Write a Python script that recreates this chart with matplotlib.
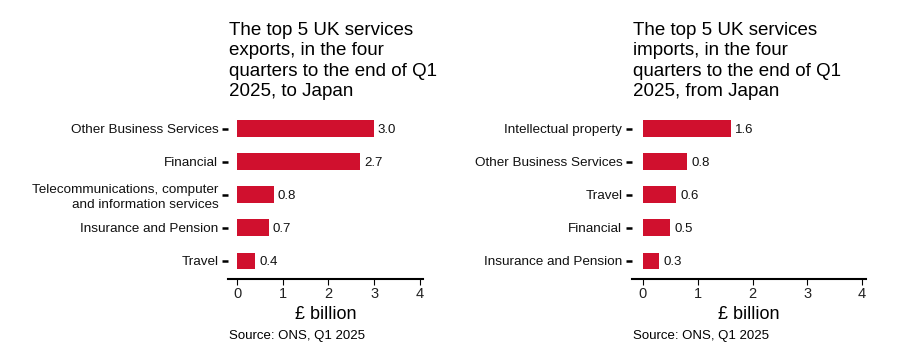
import matplotlib
matplotlib.use("Agg")
import matplotlib.pyplot as plt

plt.rcParams['font.family'] = ['Liberation Sans', 'DejaVu Sans']

exp_cats = ["Other Business Services", "Financial",
            "Telecommunications, computer\nand information services",
            "Insurance and Pension", "Travel"]
exp_vals = [3.0, 2.7, 0.8, 0.7, 0.4]
imp_cats = ["Intellectual property", "Other Business Services", "Travel",
            "Financial", "Insurance and Pension"]
imp_vals = [1.6, 0.8, 0.6, 0.5, 0.3]
x_ticks = [0, 1, 2, 3, 4]
exp_title = "The top 5 UK services\nexports, in the four\nquarters to the end of Q1\n2025, to Japan"
imp_title = "The top 5 UK services\nimports, in the four\nquarters to the end of Q1\n2025, from Japan"
source = "Source: ONS, Q1 2025"
xlabel = "£ billion"

W, H = 922, 360
fig = plt.figure(figsize=(W / 100, H / 100), dpi=100)
color = "#D0102E"

def panel(x0, x1, cats, vals, title):
    ax = fig.add_axes([x0 / W, 1 - 279 / H, (x1 - x0) / W, 172 / H])
    n = len(cats)
    ys = list(range(n, 0, -1))
    ax.barh(ys, vals, height=0.5, color=color)
    ax.set_ylim(0.45, n + 0.65)
    ax.set_xlim(-0.2, 4.07)
    ax.set_xticks(x_ticks)
    ax.set_xticklabels([str(t) for t in x_ticks], fontsize=10.5, color="#222222")
    ax.set_yticks(ys)
    ax.set_yticklabels(cats, fontsize=9.7, color="#111111", linespacing=1.3)
    for s in ["top", "right", "left"]:
        ax.spines[s].set_visible(False)
    ax.spines["bottom"].set_linewidth(1.5)
    ax.tick_params(axis="y", length=4, width=1.8, pad=3)
    ax.tick_params(axis="x", length=4, width=0.8, pad=2)
    for y, v in zip(ys, vals):
        ax.text(v + 0.08, y, f"{v:.1f}", va="center_baseline", ha="left", fontsize=9.5,
                color="#111111")
    ax.set_xlabel(xlabel, fontsize=13, labelpad=3.5)
    fig.text((x0 + 1) / W, 1 - 22 / H, title, ha="left", va="top", fontsize=13.5,
             linespacing=1.25)
    fig.text((x0 + 1) / W, 1 - 336 / H, source, ha="left", va="center", fontsize=9.5)
    return ax

panel(228, 423, exp_cats, exp_vals, exp_title)
panel(632, 866, imp_cats, imp_vals, imp_title)

fig.savefig("out.png", dpi=100)
